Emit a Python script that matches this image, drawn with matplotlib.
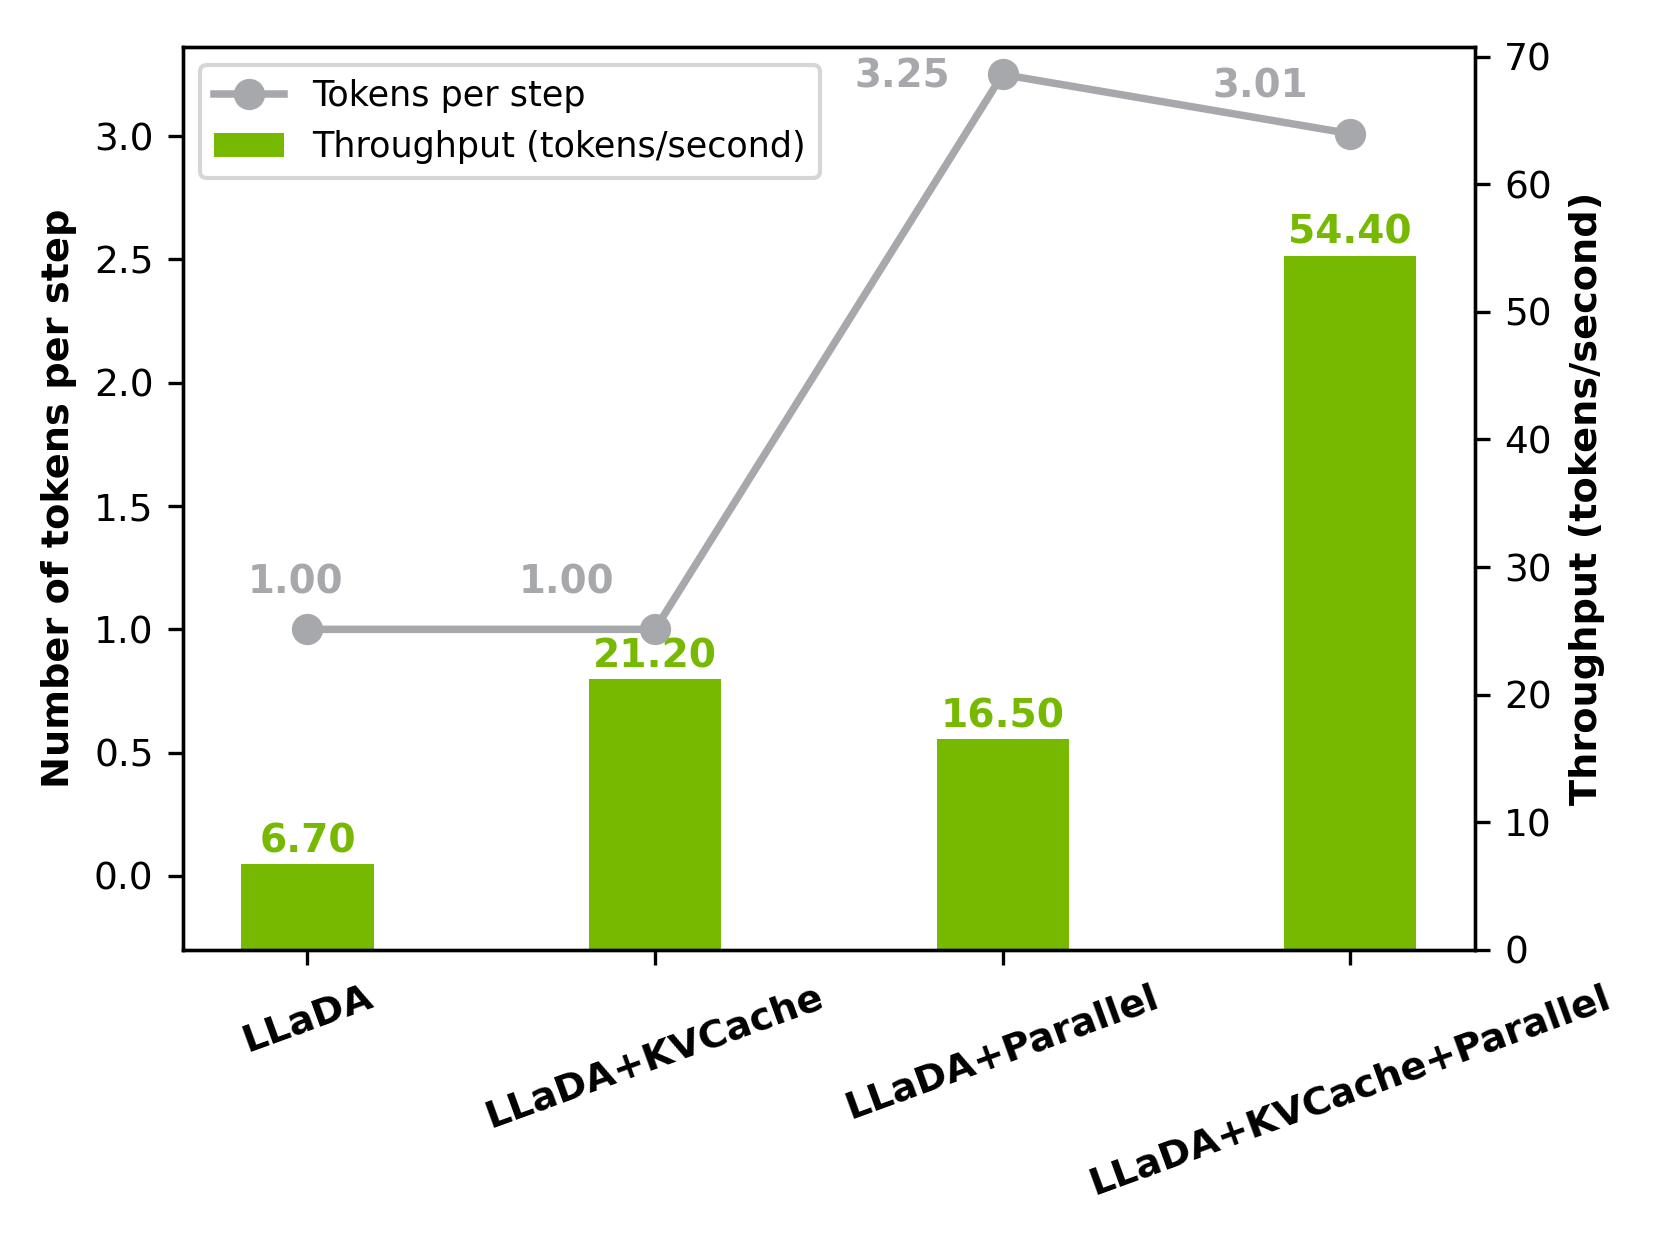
import numpy as np
import matplotlib.pyplot as plt

# data
methods = ['LLaDA', 'LLaDA+KVCache', 'LLaDA+Parallel', 'LLaDA+KVCache+Parallel']
tokens_per_step = [1.00, 1.00, 3.25, 3.01]
throughput = [6.70, 21.20, 16.50, 54.40]

green = '#76b900'
gray = '#a7a8ac'

fig = plt.figure(figsize=(1661/300, 1246/300), dpi=300)
ax1 = fig.add_axes([0.110, 0.2376, 0.778, 0.7244])
ax2 = ax1.twinx()

x = np.arange(len(methods))

# bars on right axis
bars = ax2.bar(x, throughput, width=0.38, color=green, label='Throughput (tokens/second)')
for xi, v in zip(x, throughput):
    ax2.text(xi, v + 0.3, f'{v:.2f}', ha='center', va='bottom', color=green,
             fontsize=9.4, fontweight='bold')
ax2.set_ylim(0, max(throughput) * 1.3)
ax2.set_ylabel('Throughput (tokens/second)', fontsize=9.2, fontweight='bold')
ax2.tick_params(labelsize=9)

# line on left axis, above the bars
ax1.set_zorder(ax2.get_zorder() + 1)
ax1.patch.set_visible(False)
line, = ax1.plot(x, tokens_per_step, color=gray, marker='o', linewidth=1.8,
                 markersize=6.5, label='Tokens per step')
# label offsets (dx, dy) for each point
offs = [(-0.035, 0.19), (-0.255, 0.19), (-0.29, -0.01), (-0.26, 0.19)]
for xi, v, (dx, dy) in zip(x, tokens_per_step, offs):
    ax1.text(xi + dx, v + dy, f'{v:.2f}', ha='center', va='center', color=gray,
             fontsize=9.3, fontweight='bold')
ax1.set_ylim(-0.3, 3.36)
ax1.set_xlim(-0.359, 3.359)
ax1.set_ylabel('Number of tokens per step', fontsize=9.2, fontweight='bold')
ax1.tick_params(labelsize=9)
ax1.set_xticks(x)
ax1.set_xticklabels(methods, rotation=20, ha='center', fontsize=9.2, fontweight='bold')

ax1.legend([line, bars], ['Tokens per step', 'Throughput (tokens/second)'],
           loc='upper left', fontsize=8.4)

fig.savefig('out.png', dpi=300)
